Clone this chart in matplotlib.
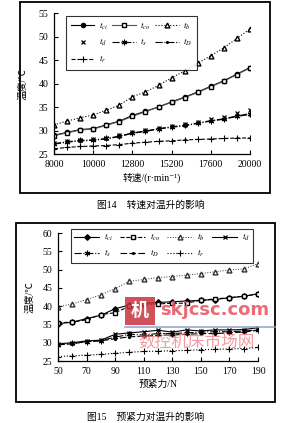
import matplotlib
matplotlib.use("Agg")
import matplotlib.pyplot as plt
from matplotlib.patches import Rectangle
from matplotlib.lines import Line2D

plt.rcParams['font.family'] = ['Liberation Serif', 'Noto Sans CJK SC', 'DejaVu Sans']
plt.rcParams['mathtext.fontset'] = 'stix'

W, H = 302, 423

# 图14 数据：转速
speed = [8000, 8800, 9600, 10400, 11200, 12000, 12800, 13600, 14400,
         15200, 16000, 16800, 17600, 18400, 19200, 20000]
speed_ticks = [8000, 10400, 12800, 15200, 17600, 20000]
speed_labels = ['8000', '10000', '12800', '15200', '17600', '20000']
t_ci1 = [29.0, 29.6, 30.2, 30.4, 31.2, 32.0, 33.2, 34.1, 35.0, 36.1, 37.1, 38.2, 39.4, 40.6, 42.0, 43.4]
t_co1 = [28.9, 29.5, 30.1, 30.3, 31.1, 31.9, 33.0, 34.0, 35.0, 36.0, 37.0, 38.1, 39.3, 40.5, 41.9, 43.3]
t_b1 = [31.2, 32.0, 32.7, 33.3, 34.3, 35.4, 37.2, 38.2, 39.6, 41.2, 42.7, 44.3, 45.9, 47.6, 49.6, 51.6]
t_d1 = [27.3, 27.8, 28.0, 28.1, 28.4, 29.0, 29.7, 30.1, 30.6, 31.0, 31.3, 31.9, 32.5, 32.9, 33.7, 34.3]
t_s1 = [27.2, 27.6, 27.9, 28.0, 28.3, 28.8, 29.5, 29.9, 30.4, 30.8, 31.1, 31.6, 32.1, 32.5, 33.1, 33.6]
t_D1 = [27.1, 27.5, 27.8, 27.9, 28.2, 28.7, 29.4, 29.8, 30.3, 30.7, 31.0, 31.5, 32.0, 32.4, 33.0, 33.4]
t_r1 = [26.1, 26.4, 26.6, 26.7, 26.8, 27.0, 27.3, 27.5, 27.7, 27.8, 28.0, 28.1, 28.2, 28.3, 28.4, 28.4]

# 图15 数据：预紧力
force = [50, 60, 70, 80, 90, 100, 110, 120, 130, 140, 150, 160, 170, 180, 190]
t_ci2 = [35.2, 35.6, 36.6, 37.5, 39.3, 40.3, 40.7, 41.0, 41.2, 41.4, 41.6, 41.8, 42.3, 42.7, 43.4]
t_co2 = [35.5, 35.6, 36.3, 37.7, 38.2, 40.0, 40.5, 40.6, 40.8, 40.8, 41.6, 42.0, 42.3, 42.7, 43.3]
t_b2 = [39.8, 40.6, 41.8, 43.1, 44.8, 46.8, 47.3, 47.8, 48.1, 48.5, 48.9, 49.4, 49.9, 50.2, 51.6]
t_d2 = [29.7, 30.0, 30.5, 30.7, 32.3, 32.7, 33.0, 33.4, 32.9, 33.5, 33.2, 33.5, 33.5, 33.6, 34.1]
t_s2 = [29.5, 29.8, 30.3, 30.6, 31.5, 32.3, 32.1, 32.5, 32.5, 32.7, 32.9, 33.0, 33.0, 33.2, 33.5]
t_D2 = [29.4, 29.7, 30.3, 30.5, 31.1, 31.6, 31.8, 32.0, 32.1, 32.3, 32.5, 32.5, 32.7, 32.9, 33.4]
t_r2 = [26.2, 26.4, 26.6, 26.8, 27.1, 27.4, 27.6, 27.7, 27.8, 27.9, 28.1, 28.2, 28.3, 28.4, 28.7]

names = ['$t_{ci}$', '$t_{co}$', '$t_b$', '$t_d$', '$t_s$', '$t_D$', '$t_r$']

fig = plt.figure(figsize=(W / 100, H / 100), dpi=100)


def rect(x0, y0, x1, y1):
    return [x0 / W, 1 - y1 / H, (x1 - x0) / W, (y1 - y0) / H]


# 外框
fig.patches.append(Rectangle((20 / W, 1 - 193 / H), 250 / W, 191 / H, transform=fig.transFigure,
                             fill=False, lw=1.3, ec='black'))
fig.patches.append(Rectangle((16 / W, 1 - 402 / H), 259 / W, 179 / H, transform=fig.transFigure,
                             fill=False, lw=1.3, ec='black'))


def style(ax):
    for s in ['top', 'right']:
        ax.spines[s].set_visible(False)
    for s in ['left', 'bottom']:
        ax.spines[s].set_linewidth(0.9)
    ax.tick_params(direction='in', length=3, width=0.8, labelsize=7, pad=4)


def legend_row_major(ax, handles, labels, ncol, **kw):
    # matplotlib 按列填充图例，这里把顺序换成按行排列
    rows = [list(range(i, min(i + ncol, len(handles)))) for i in range(0, len(handles), ncol)]
    order = [r[c] for c in range(ncol) for r in rows if c < len(r)]
    return ax.legend([handles[i] for i in order], [labels[i] for i in order], ncol=ncol, **kw)


# ---- 图14 ----
ax1 = fig.add_axes(rect(54, 13, 250, 154))
kw = dict(lw=0.8, color='black')
st1 = [dict(ls='-', marker='o', ms=3, mfc='black', **kw),
       dict(ls='-', marker='s', ms=3.5, mfc='white', lw=0.8, color='#555555', mec='black'),
       dict(ls=':', marker='^', ms=3.5, mfc='white', **kw),
       dict(ls='none', marker='x', ms=3.5, mew=0.9, color='black'),
       dict(ls='-.', marker=(6, 2, 0), ms=4, mew=0.8, **kw),
       dict(ls='-.', marker='.', ms=2.5, **kw),
       dict(ls='--', marker='+', ms=4.5, mew=0.8, **kw)]
for y, s in zip([t_ci1, t_co1, t_b1, t_d1, t_s1, t_D1, t_r1], st1):
    ax1.plot(speed, y, **s)
ax1.set_xlim(8000, 20000)
ax1.set_ylim(25, 55)
ax1.set_yticks(range(25, 56, 5))
ax1.set_xticks(speed_ticks)
ax1.set_xticklabels(speed_labels)
style(ax1)
ax1.set_xlabel('转速/(r·min⁻¹)', fontsize=7, labelpad=3)
ax1.set_ylabel('温度/℃', fontsize=7, labelpad=8)

h1 = [Line2D([], [], **s) for s in st1]
lg1 = legend_row_major(ax1, h1, names, 3, loc='upper left', bbox_to_anchor=(0.04, 1.01),
                       fontsize=6.5, frameon=True, fancybox=False, edgecolor='black',
                       handlelength=2.6, columnspacing=0.5, handletextpad=0.5,
                       labelspacing=0.6, borderpad=0.5)
lg1.get_frame().set_linewidth(0.8)

fig.text(151 / W, 1 - 205 / H, '图14    转速对温升的影响', ha='center', va='center', fontsize=7)

# ---- 图15 ----
ax2 = fig.add_axes(rect(58, 233, 258, 361))
st2 = [dict(ls='-', marker='D', ms=2.8, mfc='black', **kw),
       dict(ls='--', marker='s', ms=3.5, mfc='white', **kw),
       dict(ls=':', marker='^', ms=3.5, mfc='white', lw=0.7, color='#333333'),
       dict(ls='-', marker='x', ms=3.5, mew=0.9, **kw),
       dict(ls='-.', marker=(6, 2, 0), ms=4, mew=0.8, **kw),
       dict(ls='--', marker='.', ms=2.5, dashes=(6, 2), **kw),
       dict(ls=':', marker='+', ms=4.5, mew=0.8, **kw)]
for y, s in zip([t_ci2, t_co2, t_b2, t_d2, t_s2, t_D2, t_r2], st2):
    ax2.plot(force, y, **s)
ax2.set_xlim(50, 190)
ax2.set_ylim(25, 60)
ax2.set_yticks(range(25, 61, 5))
ax2.set_xticks(force[::2])
style(ax2)
ax2.set_xlabel('预紧力/N', fontsize=7, labelpad=3)
ax2.set_ylabel('温度/℃', fontsize=7, labelpad=6)

h2 = [Line2D([], [], **s) for s in st2]
lg2 = legend_row_major(ax2, h2, names, 4, loc='upper left', bbox_to_anchor=(0.04, 1.07),
                       fontsize=6.5, frameon=True, fancybox=False, edgecolor='black',
                       handlelength=2.8, columnspacing=0.8, handletextpad=0.5,
                       labelspacing=0.5, borderpad=0.4)
lg2.get_frame().set_linewidth(0.8)

fig.text(146 / W, 1 - 417 / H, '图15    预紧力对温升的影响', ha='center', va='center', fontsize=7)

# 水印
fig.patches.append(Rectangle((125 / W, 1 - 325 / H), 30 / W, 28 / H, transform=fig.transFigure,
                             fc='#c8323c', ec='none', alpha=0.85))
fig.text(140 / W, 1 - 311 / H, '机', ha='center', va='center', fontsize=13,
         color='white', fontweight='bold')
fig.text(160 / W, 1 - 310 / H, 'skjcsc.com', ha='left', va='center', fontsize=13,
         color='#e8505a', fontweight='bold', family='DejaVu Sans', alpha=0.85)
fig.lines.append(Line2D([125 / W, 275 / W], [1 - 327 / H, 1 - 327 / H], transform=fig.transFigure,
                        color='#8f9ccc', lw=1.2, alpha=0.9))
fig.text(197 / W, 1 - 342 / H, '数控机床市场网', ha='center', va='center', fontsize=12,
         color='#f07078', family='Noto Sans CJK SC', alpha=0.7)

fig.savefig('out.png', dpi=100)
